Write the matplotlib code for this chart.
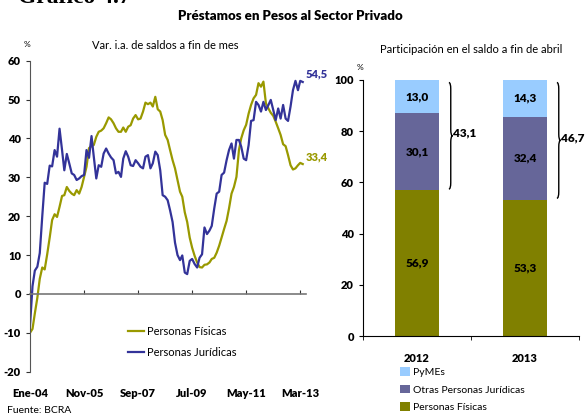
import matplotlib
matplotlib.use("Agg")
import matplotlib.pyplot as plt
from matplotlib.path import Path
from matplotlib.patches import PathPatch
import numpy as np
import pandas as pd

plt.rcParams['font.family'] = ['Lato', 'DejaVu Sans']
plt.rcParams['axes.unicode_minus'] = False

# monthly series, Ene-04 .. Abr-13 (var. i.a. %)
personas_juridicas = [
    -8.2, 2.0, 6.0, 7.0, 10.5, 20.0, 28.6, 28.3, 33.0, 32.8, 37.0, 35.3,
    42.5, 37.0, 31.8, 36.0, 33.6, 31.0, 30.6, 29.3, 29.7, 30.3, 30.6, 37.0,
    35.0, 40.6, 35.3, 29.7, 33.1, 32.7, 36.1, 37.4, 36.1, 35.1, 34.4, 31.0,
    31.4, 30.1, 34.8, 36.7, 35.3, 33.1, 32.9, 34.4, 33.6, 32.7, 32.3, 35.3,
    35.7, 32.3, 33.6, 36.6, 35.7, 31.8, 25.4, 25.0, 24.1, 21.5, 18.5, 13.2,
    10.0, 8.7, 9.9, 5.5, 5.1, 8.5, 9.0, 7.7, 6.8, 9.3, 10.2, 17.1,
    15.4, 16.3, 17.5, 22.0, 25.8, 26.3, 30.6, 31.2, 34.4, 37.0, 38.7, 34.8,
    39.6, 39.6, 37.9, 34.8, 34.4, 38.3, 44.5, 44.7, 49.4, 48.6, 46.9, 49.4,
    47.3, 48.6, 49.9, 47.3, 44.7, 47.7, 45.1, 48.6, 45.1, 44.5, 48.2, 52.4,
    54.8, 52.4, 54.8, 54.5,
]
personas_fisicas = [
    -10.0, -9.0, -5.0, -1.0, 3.9, 6.8, 6.3, 10.2, 14.5, 19.0, 20.5, 19.8,
    22.4, 25.2, 25.4, 27.5, 26.5, 25.8, 25.4, 26.7, 25.8, 27.5, 30.1, 32.7,
    37.5, 38.0, 38.3, 40.4, 41.7, 42.0, 42.6, 43.9, 45.4, 44.9, 43.9, 42.6,
    41.7, 41.7, 42.8, 41.7, 43.0, 43.4, 45.1, 46.0, 44.9, 45.1, 46.9, 49.2,
    48.8, 49.2, 48.2, 50.7, 47.5, 46.9, 44.7, 40.9, 39.6, 37.0, 34.4, 32.3,
    29.3, 26.3, 25.0, 21.0, 18.5, 14.5, 11.9, 9.8, 8.1, 6.9, 6.8, 7.5,
    7.6, 8.1, 9.0, 9.3, 10.6, 12.4, 14.5, 16.7, 18.8, 22.0, 25.8, 27.5,
    30.1, 37.0, 40.0, 42.1, 43.5, 46.4, 48.6, 50.3, 51.2, 54.2, 53.3, 54.6,
    49.0, 47.7, 46.6, 45.8, 44.3, 42.6, 40.9, 38.5, 38.0, 35.7, 33.1, 32.0,
    32.3, 33.1, 33.7, 33.4,
]
fechas = pd.date_range('2004-01-01', periods=len(personas_fisicas), freq='MS')
tick_fechas = ['2004-01-01', '2005-11-01', '2007-09-01', '2009-07-01', '2011-05-01', '2013-03-01']
tick_labels = ['Ene-04', 'Nov-05', 'Sep-07', 'Jul-09', 'May-11', 'Mar-13']

# participacion en el saldo a fin de abril
anios = ['2012', '2013']
pf_part = [56.9, 53.3]
otras_pj = [30.1, 32.4]
pymes = [13.0, 14.3]
total_pj = [43.1, 46.7]

OLIVE_LINE = '#999900'
BLUE_LINE = '#333399'
C_PYMES = '#99CCFF'
C_OTRAS = '#666699'
C_PF = '#808000'
BOLD = 'heavy'

fig = plt.figure(figsize=(5.87, 4.17), dpi=100)

fig.text(0.03, 1.005, 'Gráfico 4.7', fontsize=17, fontweight='bold',
         family='Liberation Serif', va='center', ha='left')
fig.text(0.495, 0.962, 'Préstamos en Pesos al Sector Privado', fontsize=9.5,
         fontweight=BOLD, ha='center', va='center')
fig.text(0.012, 0.016, 'Fuente: BCRA', fontsize=7.5, ha='left', va='center')

# ---- left: line chart
ax1 = fig.add_axes([0.0511, 0.1086, 0.470, 0.746])
ax1.plot(fechas, personas_fisicas, color=OLIVE_LINE, lw=1.6, label='Personas Físicas')
ax1.plot(fechas, personas_juridicas, color=BLUE_LINE, lw=1.6, label='Personas Jurídicas')
ax1.set_xlim(pd.Timestamp('2004-01-01'), pd.Timestamp('2013-05-10'))
ax1.set_ylim(-20, 60)
ax1.set_yticks(np.arange(-20, 61, 10))
for s in ['top', 'right']:
    ax1.spines[s].set_visible(False)
ax1.spines['left'].set_color('#555555')
ax1.spines['bottom'].set_position(('data', 0))
ax1.spines['bottom'].set_color('#777777')
ax1.spines['bottom'].set_linewidth(1.2)
tk = [pd.Timestamp(t) for t in tick_fechas]
ax1.set_xticks(tk)
ax1.tick_params(axis='x', direction='in', length=3, labelbottom=False, color='#333333')
ax1.tick_params(axis='y', direction='out', length=3, labelsize=8, color='#333333')
for lab in ax1.get_yticklabels():
    lab.set_fontweight(BOLD)
for t, l in zip(tk, tick_labels):
    ax1.text(t, -0.07, l, transform=ax1.get_xaxis_transform(), ha='center',
             va='center', fontsize=8, fontweight=BOLD)
ax1.text(-0.01, 1.045, '%', transform=ax1.transAxes, fontsize=6, ha='center')
ax1.text(0.49, 1.05, 'Var. i.a. de saldos a fin de mes', transform=ax1.transAxes,
         fontsize=8, ha='center', va='center')
ax1.annotate(f"{personas_juridicas[-1]:.1f}".replace('.', ','), (fechas[-1], personas_juridicas[-1]),
             xytext=(2, 6), textcoords='offset points', color=BLUE_LINE, fontsize=8,
             fontweight=BOLD, va='center', ha='left', annotation_clip=False)
ax1.annotate(f"{personas_fisicas[-1]:.1f}".replace('.', ','), (fechas[-1], personas_fisicas[-1]),
             xytext=(2, 5), textcoords='offset points', color=OLIVE_LINE, fontsize=8,
             fontweight=BOLD, va='center', ha='left', annotation_clip=False)
ax1.legend(loc='upper left', bbox_to_anchor=(0.218, 0.218), bbox_transform=fig.transFigure,
           frameon=False, fontsize=8, handlelength=1.4, handletextpad=0.3,
           labelspacing=0.85, borderpad=0, borderaxespad=0)

# ---- right: stacked bars
ax2 = fig.add_axes([0.6184, 0.1942, 0.368, 0.614])
x = np.arange(len(anios))
w = 0.41
b1 = ax2.bar(x, pf_part, w, color=C_PF, label='Personas Físicas')
b2 = ax2.bar(x, otras_pj, w, bottom=pf_part, color=C_OTRAS, label='Otras Personas Jurídicas')
bot3 = np.array(pf_part) + np.array(otras_pj)
b3 = ax2.bar(x, pymes, w, bottom=bot3, color=C_PYMES, label='PyMEs')
for i in range(len(anios)):
    segs = [(0, pf_part[i]), (pf_part[i], otras_pj[i]), (bot3[i], pymes[i])]
    for bot, h in segs:
        ax2.text(x[i], bot + h / 2, f"{h:.1f}".replace('.', ','), ha='center', va='center',
                 fontsize=8.5, fontweight=BOLD, color='black')
    # llave
    x0 = x[i] + w / 2 + 0.09
    d = 0.035
    y_lo = pf_part[i] + 0.5
    y_hi = 99.0
    ym = (y_lo + y_hi) / 2
    r = 2.5
    verts = [(x0, y_hi), (x0 + d / 2, y_hi), (x0 + d / 2, y_hi - r),
             (x0 + d / 2, ym + r),
             (x0 + d / 2, ym), (x0 + d, ym),
             (x0 + d / 2, ym), (x0 + d / 2, ym - r),
             (x0 + d / 2, y_lo + r),
             (x0 + d / 2, y_lo), (x0, y_lo)]
    codes = [Path.MOVETO, Path.CURVE3, Path.CURVE3, Path.LINETO,
             Path.CURVE3, Path.CURVE3, Path.CURVE3, Path.CURVE3,
             Path.LINETO, Path.CURVE3, Path.CURVE3]
    ax2.add_patch(PathPatch(Path(verts, codes), fill=False, lw=1.0, color='black'))
    ax2.text(x0 + d + 0.005, ym + 1, f"{total_pj[i]:.1f}".replace('.', ','), ha='left',
             va='center', fontsize=8.5, fontweight=BOLD, clip_on=False)

ax2.set_xlim(-0.5, 1.5)
ax2.set_ylim(0, 100)
ax2.set_yticks(np.arange(0, 101, 20))
ax2.set_xticks(x)
ax2.set_xticklabels(anios)
ax2.set_xticks([-0.5, 0.5, 1.5], minor=True)
ax2.tick_params(axis='x', which='major', length=0, pad=12, labelsize=8)
ax2.tick_params(axis='x', which='minor', direction='out', length=3)
ax2.tick_params(axis='y', direction='out', length=3, labelsize=8)
for lab in ax2.get_yticklabels() + ax2.get_xticklabels():
    lab.set_fontweight(BOLD)
for s in ['top', 'right']:
    ax2.spines[s].set_visible(False)
ax2.text(-0.015, 1.04, '%', transform=ax2.transAxes, fontsize=6, ha='center')
ax2.text(0.5, 1.12, 'Participación en el saldo a fin de abril', transform=ax2.transAxes,
         fontsize=8, ha='center', va='center')

fig.legend(handles=[b3, b2, b1], labels=['PyMEs', 'Otras Personas Jurídicas', 'Personas Físicas'],
           loc='upper left', bbox_to_anchor=(0.682, 0.12), frameon=False, fontsize=7.5,
           handlelength=0.9, handleheight=0.9, handletextpad=0.3, labelspacing=0.75,
           borderpad=0, borderaxespad=0)

fig.savefig('out.png', dpi=100)
